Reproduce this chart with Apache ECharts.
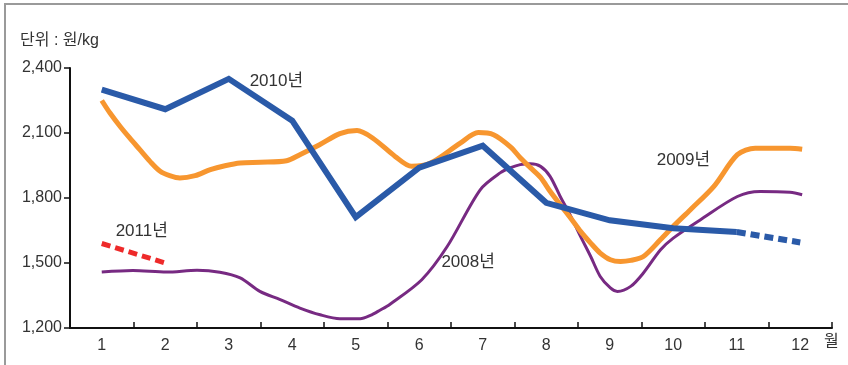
<!DOCTYPE html>
<html>
<head>
<meta charset="utf-8">
<script src="https://cdn.jsdelivr.net/npm/echarts@6/dist/echarts.min.js"></script>
<style>
  html, body { margin: 0; padding: 0; background: #fff; }
  #chart { width: 848px; height: 365px; }
</style>
</head>
<body>
<div id="chart"></div>
<script>
// Month labels along the bottom axis
const months = ['1', '2', '3', '4', '5', '6', '7', '8', '9', '10', '11', '12'];
const yTicks = [1200, 1500, 1800, 2100, 2400];

// 2008: sampled through the year (position in months, price in won/kg)
const pos2008 = [1.0, 1.49, 2.02, 2.5, 2.86, 3.18, 3.49, 3.81, 4.12, 4.44, 4.75, 5.07, 5.23, 5.38, 5.54, 6.04, 6.44, 6.96, 7.28, 7.44, 7.59, 7.75, 7.91, 8.06, 8.22, 8.38, 8.54, 8.7, 8.85, 9.01, 9.12, 9.33, 9.53, 9.8, 10.0, 10.43, 11.01, 11.37, 11.84, 12.03];
const val2008 = [1458, 1465, 1458, 1466, 1457, 1431, 1369, 1331, 1292, 1261, 1243, 1243, 1258, 1282, 1310, 1423, 1576, 1838, 1917, 1940, 1954, 1958, 1946, 1900, 1807, 1720, 1623, 1530, 1438, 1385, 1369, 1392, 1454, 1561, 1615, 1700, 1807, 1830, 1826, 1815];

// 2009
const pos2009 = [1.0, 1.13, 1.29, 1.44, 1.6, 1.76, 1.92, 2.07, 2.23, 2.47, 2.71, 2.94, 3.18, 3.5, 3.91, 4.12, 4.43, 4.75, 5.02, 5.27, 5.62, 5.88, 6.17, 6.64, 6.93, 7.17, 7.44, 7.59, 7.75, 7.91, 8.06, 8.22, 8.38, 8.54, 8.7, 8.85, 9.01, 9.17, 9.33, 9.53, 9.8, 10.0, 10.27, 10.64, 11.01, 11.29, 11.84, 12.03];
const val2009 = [2250, 2192, 2130, 2077, 2023, 1969, 1923, 1903, 1892, 1903, 1931, 1949, 1962, 1965, 1972, 2000, 2046, 2097, 2111, 2076, 1992, 1946, 1960, 2052, 2102, 2092, 2035, 1986, 1940, 1895, 1831, 1769, 1709, 1646, 1592, 1546, 1515, 1507, 1512, 1530, 1608, 1669, 1746, 1854, 2000, 2030, 2030, 2025];

// 2010: monthly, January to November observed, December projected
const val2010 = [2300, 2210, 2350, 2157, 1712, 1940, 2041, 1778, 1697, 1660, 1643];
const proj2010 = [1643, 1595];      // months 11 -> 12

// 2011: January and February
const val2011 = [1590, 1500];

// Year captions, placed in data coordinates
const captions = [
  { name: '2010년', coord: [3.75, 2337] },
  { name: '2011년', coord: [1.63, 1645] },
  { name: '2008년', coord: [6.77, 1502] },
  { name: '2009년', coord: [10.16, 1972] }
];

const FONT = "'Liberation Sans Narrow', 'Liberation Sans', 'Noto Sans CJK KR', sans-serif";
const pairs = (xs, ys) => xs.map((x, i) => [x, ys[i]]);

const chart = echarts.init(document.getElementById('chart'), null, { renderer: 'canvas' });

chart.setOption({
  animation: false,
  backgroundColor: '#fff',
  textStyle: { fontFamily: FONT },
  grid: { left: 70, right: 16, top: 68, bottom: 37, containLabel: false },
  xAxis: [
    {
      type: 'category',
      data: months,
      boundaryGap: true,
      axisLine: { lineStyle: { color: '#111', width: 2 } },
      axisTick: { show: true, inside: true, length: 6, lineStyle: { color: '#111', width: 1.5 } },
      axisLabel: { color: '#333', fontSize: 16, fontFamily: FONT, margin: 10 },
      splitLine: { show: false }
    },
    {
      type: 'value',
      min: 0.5,
      max: 12.5,
      show: false,
      splitLine: { show: false }
    }
  ],
  yAxis: {
    type: 'value',
    min: yTicks[0],
    max: yTicks[yTicks.length - 1],
    interval: 300,
    axisLine: { show: true, lineStyle: { color: '#111', width: 2 } },
    axisTick: { show: true, length: 6, lineStyle: { color: '#111', width: 1.5 } },
    axisLabel: {
      color: '#333', fontSize: 16, fontFamily: FONT, margin: 8,
      formatter: v => v.toLocaleString('en-US')
    },
    splitLine: { show: false }
  },
  series: [
    {
      name: '2008년',
      type: 'line',
      xAxisIndex: 1,
      data: pairs(pos2008, val2008),
      smooth: 0.3,
      showSymbol: false,
      lineStyle: { color: '#772a82', width: 3 },
      z: 2
    },
    {
      name: '2009년',
      type: 'line',
      xAxisIndex: 1,
      data: pairs(pos2009, val2009),
      smooth: 0.3,
      showSymbol: false,
      lineStyle: { color: '#f7962f', width: 5 },
      z: 3
    },
    {
      name: '2010년',
      type: 'line',
      xAxisIndex: 1,
      data: val2010.map((v, i) => [i + 1, v]),
      showSymbol: false,
      lineStyle: { color: '#2a5aa8', width: 6, join: 'miter' },
      z: 4,
      markPoint: {
        symbol: 'circle',
        symbolSize: 0,
        silent: true,
        label: {
          show: true, position: 'inside', formatter: '{b}',
          color: '#333', fontSize: 17, fontFamily: FONT
        },
        data: captions.map(c => ({ name: c.name, coord: c.coord }))
      }
    },
    {
      name: '2010년 전망',
      type: 'line',
      xAxisIndex: 1,
      data: proj2010.map((v, i) => [11 + i, v]),
      showSymbol: false,
      lineStyle: { color: '#2a5aa8', width: 6, type: [9, 5] },
      z: 4
    },
    {
      name: '2011년',
      type: 'line',
      xAxisIndex: 1,
      data: val2011.map((v, i) => [i + 1, v]),
      showSymbol: false,
      lineStyle: { color: '#ee2a2a', width: 5, type: [9, 5] },
      z: 5
    }
  ],
  graphic: [
    {
      type: 'rect',
      shape: { x: 5, y: 4, width: 900, height: 420 },
      style: { fill: null, stroke: '#9a9a9a', lineWidth: 2 },
      silent: true
    },
    {
      type: 'text',
      left: 20, top: 33,
      style: { text: '단위 : 원/kg', fill: '#333', font: '16px ' + FONT }
    },
    {
      type: 'text',
      left: 824, top: 334,
      style: { text: '월', fill: '#333', font: '16px ' + FONT }
    }
  ]
});
</script>
</body>
</html>
